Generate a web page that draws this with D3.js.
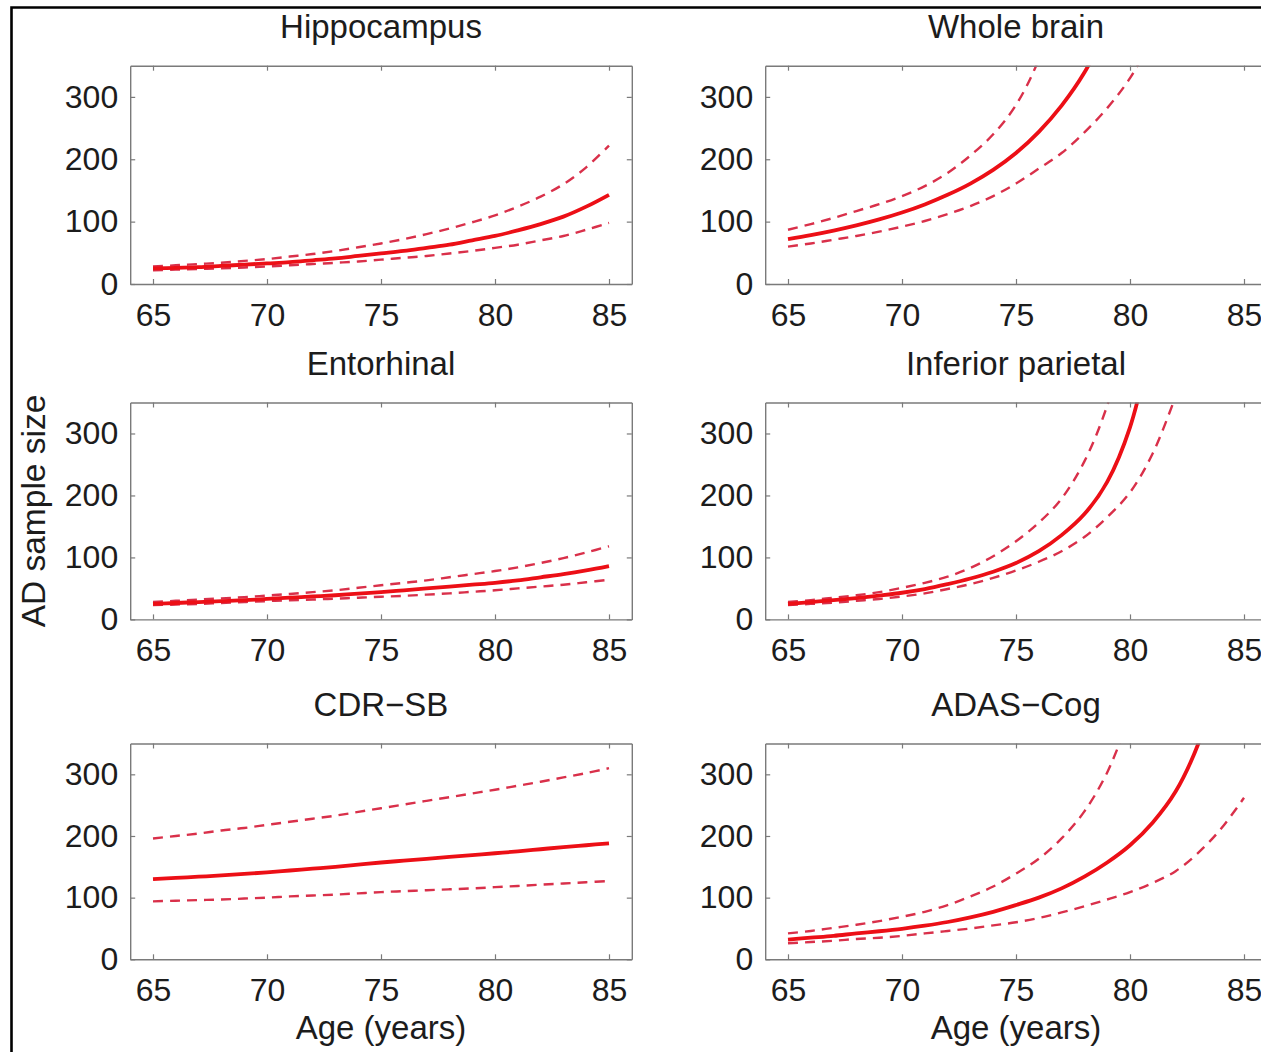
<!DOCTYPE html>
<html><head><meta charset="utf-8">
<script src="https://cdn.jsdelivr.net/npm/d3@7"></script>
<style>
body{margin:0;background:#fff}
svg{display:block}
text{font-family:"Liberation Sans",Arial,Helvetica,sans-serif}
</style>
</head><body>
<svg id="chart" width="1261" height="1052"></svg>
<script>
// ---- data ----
const ages = [65,66,67,68,69,70,71,72,73,74,75,76,77,78,79,80,81,82,83,84,85];
const xTicks = [65,70,75,80,85];
const yTicks = [0,100,200,300];
const titles = ["Hippocampus","Whole brain","Entorhinal","Inferior parietal","CDR\u2212SB","ADAS\u2212Cog"];

const hippoMean  = [25,26,27,29,31,33,35,38,41,45,49,53,58,63,70,77,86,96,108,124,143];
const hippoUpper = [28,30,32,34,37,40,44,48,53,59,65,72,80,89,99,110,124,140,160,187,222];
const hippoLower = [22,23,24,25,26.5,28,30,32,34,36,39,42,45,49,53,58,63,70,77,87,98];

const wholeMean  = [72,78.3,85.6,93.9,103.5,114.6,127.6,143,161,183,210,244,286,339,410,null,null,null,null,null,null];
const wholeUpper = [87,96,106,117,128,141,157,178,206,240,287,360,470,null,null,null,null,null,null,null,null];
const wholeLower = [60,65,71,77,84,92,101,112,125,141,161,185,210,243,282,330,395,null,null,null,null];

const entMean  = [25,26.5,28,29.5,31,33,35,37,39,41.5,44,47,50,53,56,59,63,68,73,79,86];
const entUpper = [28,30,32,34,36,38.5,41,44,47,51,55,59,63,68,73,78,84,91,99,108,118];
const entLower = [23,24,25,26.5,28,29.5,31,32,33.5,35,36.5,38,40,42,44.5,47,50,53,56,60,64];

const ipMean  = [25,28,31,34.5,38.5,43,49,57,66,77,91,110,136,170,222,310,460,null,null,null,null];
const ipUpper = [28,31,35,39,44,51,59,69,83,102,126,156,195,255,345,480,null,null,null,null,null];
const ipLower = [23,25,27,30,33,37,42,49,57,67,79,93,110,133,165,205,268,360,null,null,null];

const cdrMean  = [130,132,134,136,138.5,141,144,147,150,153.5,157,160,163,166,169,172,175,178.5,182,185,188];
const cdrUpper = [196,200,204,209,213,218,223,228,233,239,245,251,257,263,269,275,281.5,288,295,302,310];
const cdrLower = [94,95,96,97,98.5,100,102,103.5,105,107,109,110.5,112,113.5,115,117,119,121,123,125,127];

const adasMean  = [32,35,38,42,45.5,49.5,54.5,60.5,68,77,88,100,115,134,157,185,222,272,350,470,null];
const adasUpper = [42,46,51,56,62,69,77,88,102,118,139,163,196,240,303,395,null,null,null,null,null];
const adasLower = [26,28,30,33,35,38,42,46,50,55,60,67,76,86,97,109,124,143,173,212,262];

const seriesSets = [
  [hippoMean, hippoUpper, hippoLower],
  [wholeMean, wholeUpper, wholeLower],
  [entMean, entUpper, entLower],
  [ipMean, ipUpper, ipLower],
  [cdrMean, cdrUpper, cdrLower],
  [adasMean, adasUpper, adasLower]
];

// ---- layout ----
const colLeft = [130.2, 765.2];
const rowTop = [65.7, 402.5, 743.5];
const rowBottom = [284, 619.4, 959.3];
const W = 501.6;
const FONT = '"Liberation Sans",Arial,Helvetica,sans-serif';
const AXIS_COL = "#7a7a7a";
const TEXT_COL = "#1c1c1c";

const svg = d3.select("#chart");

seriesSets.forEach((set, i) => {
  const col = i % 2, row = Math.floor(i / 2);
  const H = rowBottom[row] - rowTop[row];
  const g = svg.append("g").attr("transform", `translate(${colLeft[col]},${rowTop[row]})`);
  const x = d3.scaleLinear().domain([64, 86]).range([0, W]);
  const y = d3.scaleLinear().domain([0, 350]).range([H, 0]);

  const clipId = "clip" + i;
  g.append("clipPath").attr("id", clipId).append("rect")
    .attr("x", 0).attr("y", 0).attr("width", W).attr("height", H);

  const line = d3.line()
    .defined(d => d[1] !== null)
    .x(d => x(d[0])).y(d => y(d[1]))
    .curve(d3.curveCatmullRom.alpha(0.5));

  const lines = g.append("g").attr("clip-path", `url(#${clipId})`);
  [set[1], set[2]].forEach(vals => {
    lines.append("path")
      .attr("d", line(ages.map((a, k) => [a, vals[k]])))
      .attr("fill", "none").attr("stroke", "#d9304a")
      .attr("stroke-width", 2.4).attr("stroke-dasharray", "10,7");
  });
  lines.append("path")
    .attr("d", line(ages.map((a, k) => [a, set[0][k]])))
    .attr("fill", "none").attr("stroke", "#ec0f16")
    .attr("stroke-width", 3.8);

  const styleAxis = sel => {
    sel.attr("font-size", 32).attr("font-family", FONT);
    sel.select(".domain").attr("stroke", AXIS_COL).attr("stroke-width", 1.4);
    sel.selectAll(".tick line").attr("stroke", AXIS_COL).attr("stroke-width", 1.2);
    sel.selectAll(".tick text").attr("fill", TEXT_COL);
  };

  g.append("g").attr("transform", `translate(0,${H})`)
    .call(d3.axisBottom(x).tickValues(xTicks).tickSizeInner(-5).tickSizeOuter(0).tickPadding(19))
    .call(styleAxis);
  g.append("g")
    .call(d3.axisTop(x).tickValues(xTicks).tickSizeInner(-5).tickSizeOuter(0).tickFormat(""))
    .call(styleAxis);
  g.append("g")
    .call(d3.axisLeft(y).tickValues(yTicks).tickSizeInner(-5).tickSizeOuter(0).tickPadding(12))
    .call(styleAxis);
  g.append("g").attr("transform", `translate(${W},0)`)
    .call(d3.axisRight(y).tickValues(yTicks).tickSizeInner(-5).tickSizeOuter(0).tickFormat(""))
    .call(styleAxis);

  g.append("text").attr("x", x(75)).attr("y", -27.5)
    .attr("text-anchor", "middle").attr("font-size", 33).attr("fill", TEXT_COL)
    .text(titles[i]);

  if (row === 2) {
    g.append("text").attr("x", x(75)).attr("y", H + 80)
      .attr("text-anchor", "middle").attr("font-size", 33).attr("fill", TEXT_COL)
      .text("Age (years)");
  }
});

// y-axis label
svg.append("text")
  .attr("transform", "translate(45,511) rotate(-90)")
  .attr("text-anchor", "middle").attr("font-size", 33.5).attr("fill", TEXT_COL)
  .text("AD sample size");

// outer figure frame (left and top edges visible)
svg.append("path").attr("d", "M11.5,1052 V7.5 H1261")
  .attr("fill", "none").attr("stroke", "#000").attr("stroke-width", 2.6);
</script>
</body></html>
